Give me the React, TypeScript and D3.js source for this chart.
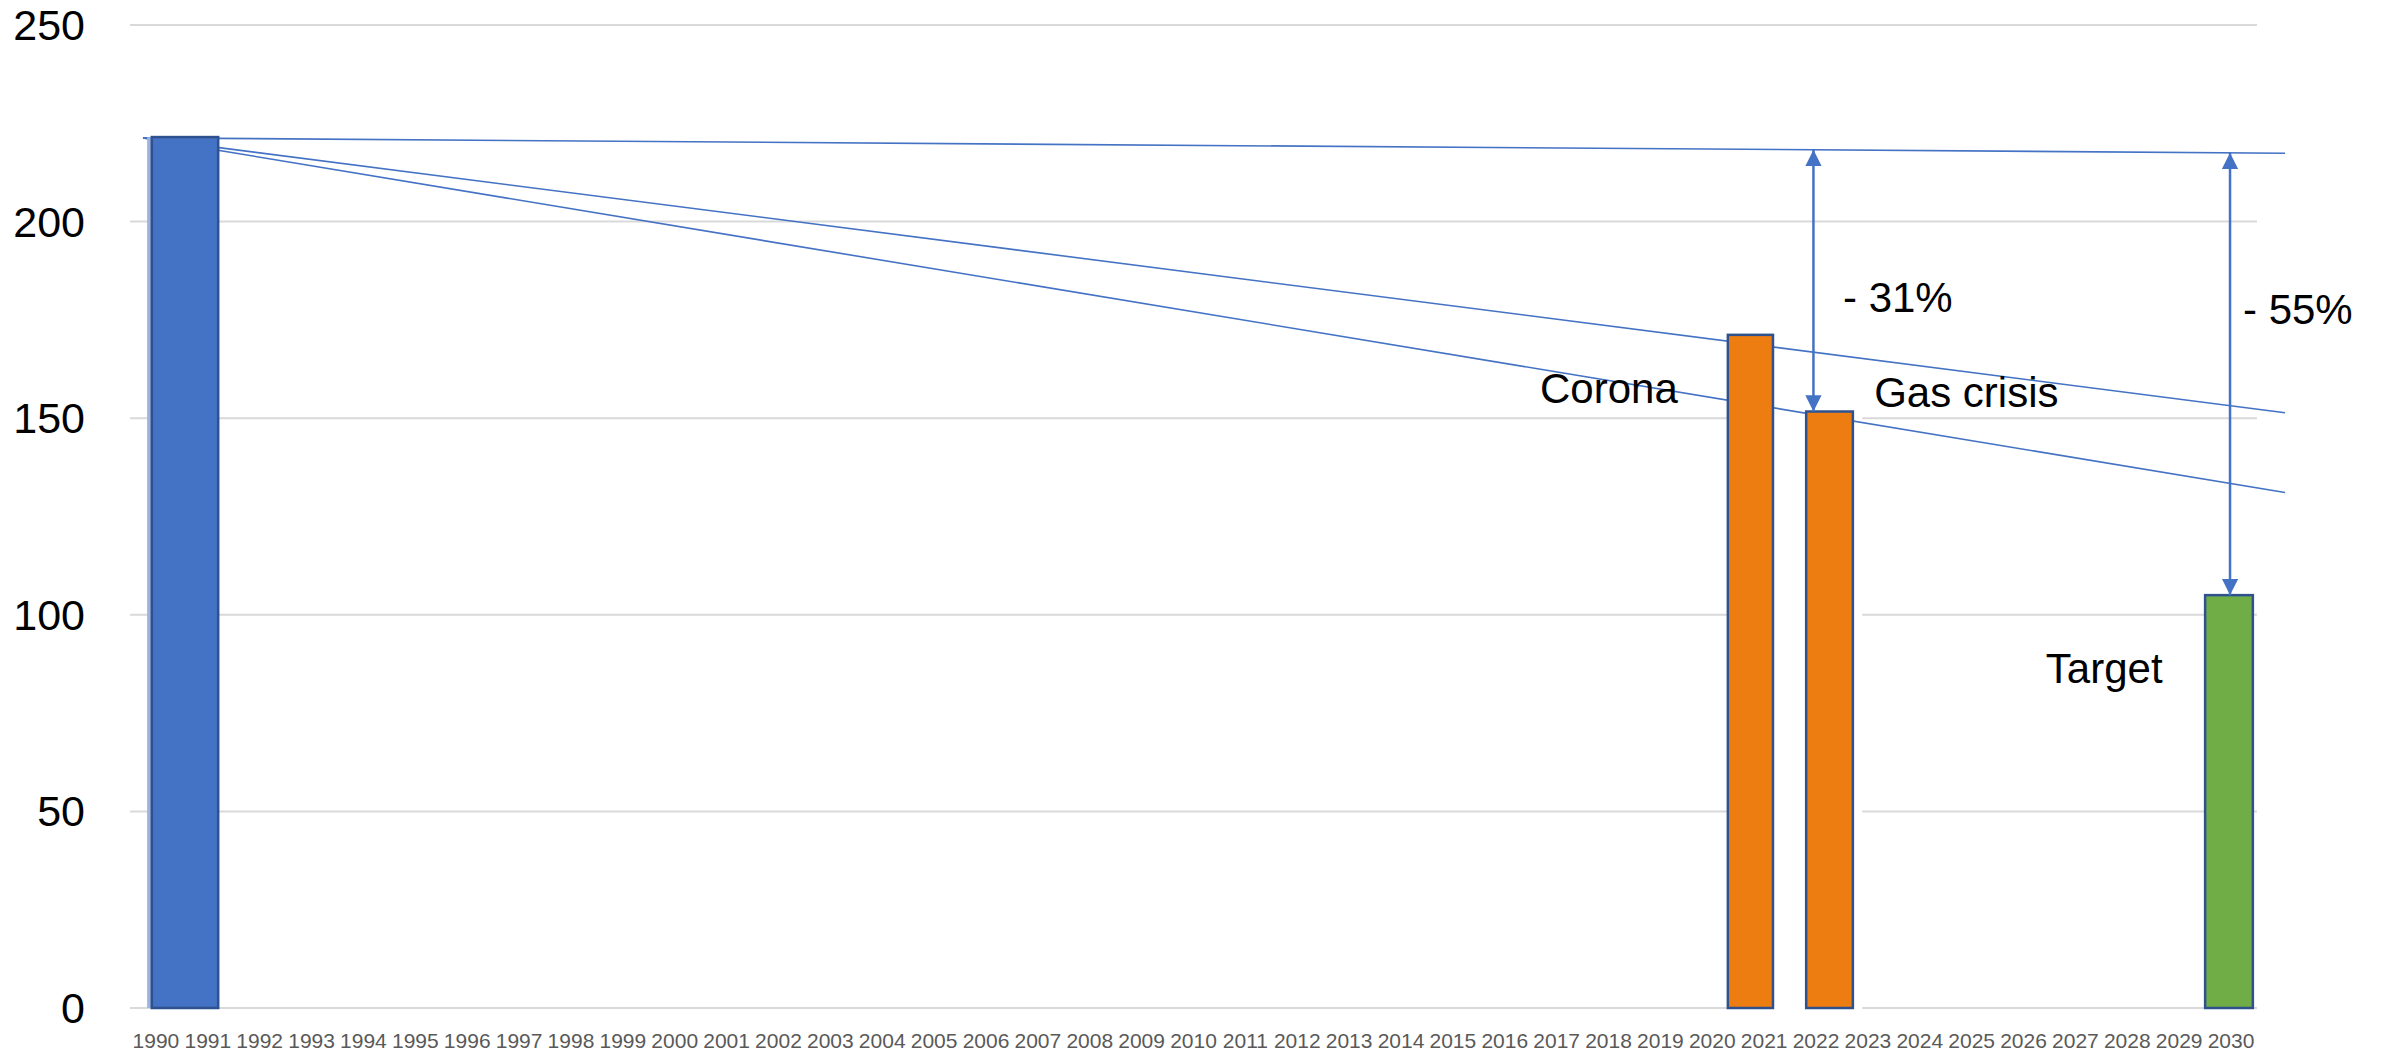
import React, { useEffect } from "react";
import * as d3 from "d3";

const years: number[] = d3.range(1990, 2031);
const yTicks: number[] = [0, 50, 100, 150, 200, 250];

// bars: name, value, start/end position in year units
const barNames = ["1990", "Corona", "Gas crisis", "Target"];
const barValues = [221.5, 171.2, 151.7, 105];
const barFrom = [1989.92, 2020.3, 2021.81, 2029.5];
const barTo = [1991.2, 2021.17, 2022.71, 2030.42];
const barColors = ["#4472C4", "#EE7D11", "#EE7D11", "#70AD47"];

// trend lines from 1990 level to 2031
const lineStartYear = 1989.75;
const lineEndYear = 2031.04;
const lineStartValue = 221.3;
const lineEndValues = [217.4, 151.4, 131.1];

// arrows (year, bar value)
const arrowYears = [2021.95, 2029.98];
const arrowBottoms = [151.7, 105];

// annotations
const labelTexts = ["Corona", "Gas crisis", "- 31%", "- 55%", "Target"];
const labelYears = [2016.68, 2023.12, 2022.52, 2030.23, 2026.43];
const labelValues = [153.9, 152.8, 177.0, 174.0, 82.65];

const W = 2384;
const H = 1055;
const FONT = "'Liberation Sans', Arial, sans-serif";

export default function App() {
  useEffect(() => {
    document.body.style.margin = "0";
  }, []);

  const x = d3.scaleBand<number>().domain(years).range([130, 2257]).padding(0);
  const bw = x.bandwidth();
  const xl = d3
    .scaleLinear()
    .domain([1990, 2030])
    .range([(x(1990) as number) + bw / 2, (x(2030) as number) + bw / 2]);
  const y = d3.scaleLinear().domain([0, 250]).range([1008, 25]);

  const lineGen = d3
    .line<[number, number]>()
    .x((d) => xl(d[0]))
    .y((d) => y(d[1]));

  const topLineAt = (yr: number) =>
    lineStartValue +
    ((lineEndValues[0] - lineStartValue) * (yr - lineStartYear)) / (lineEndYear - lineStartYear);

  const blue = "#4472C4";

  return (
    <svg width={W} height={H} style={{ display: "block", background: "#fff" }}>
      <defs>
        <marker id="ah" viewBox="0 0 10 10" refX="10" refY="5" markerWidth="6.5" markerHeight="6.5" orient="auto-start-reverse" markerUnits="strokeWidth">
          <path d="M0,0 L10,5 L0,10 z" fill={blue} />
        </marker>
      </defs>
      {/* gridlines */}
      {yTicks.map((t) => (
        <line key={"g" + t} x1={130} x2={2257} y1={y(t)} y2={y(t)} stroke="#D9D9D9" strokeWidth={2} />
      ))}
      {/* y labels */}
      {yTicks.map((t) => (
        <text key={"yl" + t} x={85} y={y(t)} textAnchor="end" dominantBaseline="central" fontFamily={FONT} fontSize={43} fill="#000">
          {t}
        </text>
      ))}
      {/* x labels */}
      {years.map((yr) => (
        <text key={"xl" + yr} x={(x(yr) as number) + bw / 2} y={1048} textAnchor="middle" fontFamily={FONT} fontSize={21} fill="#595959">
          {yr}
        </text>
      ))}
      {/* white gap between orange bars */}
      <rect x={xl(barTo[1])} width={xl(2022.89) - xl(barTo[1])} y={y(barValues[1])} height={y(0) - y(barValues[1]) + 3} fill="#fff" />
      {/* trend lines */}
      {lineEndValues.map((v, i) => (
        <path
          key={"tl" + i}
          d={lineGen([
            [lineStartYear, lineStartValue],
            [lineEndYear, v],
          ]) as string}
          fill="none"
          stroke={blue}
          strokeWidth={1.6}
        />
      ))}
      {/* light strip behind first bar */}
      <rect x={xl(1989.83)} width={xl(barFrom[0]) - xl(1989.83) + 4} y={y(barValues[0])} height={y(0) - y(barValues[0])} fill="#9DB3E0" />
      {/* bars */}
      {barNames.map((n, i) => (
        <rect
          key={"b" + n}
          x={xl(barFrom[i])}
          width={xl(barTo[i]) - xl(barFrom[i])}
          y={y(barValues[i])}
          height={y(0) - y(barValues[i])}
          fill={barColors[i]}
          stroke="#2F528F"
          strokeWidth={2.5}
        />
      ))}
      {/* arrows */}
      {arrowYears.map((yr, i) => (
        <line
          key={"ar" + i}
          x1={xl(yr)}
          x2={xl(yr)}
          y1={y(topLineAt(yr))}
          y2={y(arrowBottoms[i])}
          stroke={blue}
          strokeWidth={2.5}
          markerStart="url(#ah)"
          markerEnd="url(#ah)"
        />
      ))}
      {/* annotations */}
      {labelTexts.map((t, i) => (
        <text key={"lab" + i} x={xl(labelYears[i])} y={y(labelValues[i])} fontFamily={FONT} fontSize={42} fill="#000">
          {t}
        </text>
      ))}
    </svg>
  );
}
